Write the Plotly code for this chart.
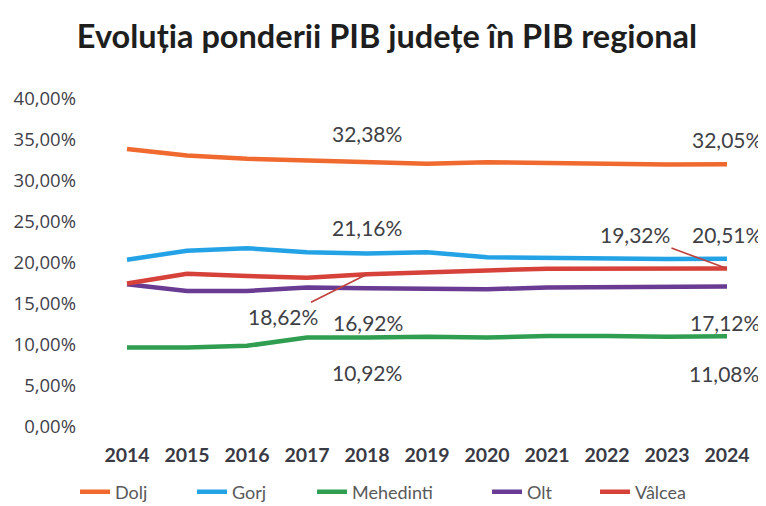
import plotly.graph_objects as go

years = [2014, 2015, 2016, 2017, 2018, 2019, 2020, 2021, 2022, 2023, 2024]
dolj = [33.9, 33.1, 32.7, 32.5, 32.38, 32.1, 32.3, 32.2, 32.1, 32.0, 32.05]
gorj = [20.4, 21.5, 21.8, 21.3, 21.16, 21.3, 20.7, 20.6, 20.5, 20.5, 20.51]
mehedinti = [9.7, 9.7, 9.9, 10.9, 10.92, 11.0, 10.9, 11.1, 11.1, 11.0, 11.08]
olt = [17.4, 16.6, 16.6, 17.0, 16.92, 16.8, 16.8, 17.0, 17.0, 17.0, 17.12]
valcea = [17.5, 18.7, 18.4, 18.2, 18.62, 18.8, 19.1, 19.3, 19.3, 19.3, 19.32]

series_names = ["Dolj", "Gorj", "Mehedinti", "Olt", "Vâlcea"]
series_values = [dolj, gorj, mehedinti, olt, valcea]
colors = ["#F0692F", "#23A2E6", "#2F9E50", "#6A3B92", "#D6413A"]
legend_widths = [72, 75, 130, 63, 60]

y_tickvals = [0, 5, 10, 15, 20, 25, 30, 35, 40]
y_ticktext = ["0,00%", "5,00%", "10,00%", "15,00%", "20,00%", "25,00%", "30,00%", "35,00%", "40,00%"]
x_ticktext = [str(y) for y in years]

label_years = [2018, 2024]

title_text = "Evoluția ponderii PIB județe în PIB regional"

FONT = "Lato"
TEXT_COLOR = "#3F3F46"

# the page body adds an 8px margin, so the figure is drawn 8px smaller
W, H = 758, 498

fig = go.Figure()
for name, vals, col, lw in zip(series_names, series_values, colors, legend_widths):
    fig.add_trace(go.Scatter(x=years, y=vals, mode="lines", name=name,
                             legendwidth=lw,
                             line=dict(color=col, width=4.5)))

def fmt(v):
    return f"{v:.2f}%".replace(".", ",")

placement = {
    "Dolj": {2018: (0, 28), 2024: (0, 25)},
    "Gorj": {2018: (0, 26), 2024: (0, 24)},
    "Mehedinti": {2018: (0, -35), 2024: (-3, -37)},
    "Olt": {2018: (1, -34), 2024: (-2, -36)},
}
leader = {"Vâlcea": {2018: (-84, 42), 2024: (-92, -34)}}

for name, vals in zip(series_names, series_values):
    for yr in label_years:
        v = vals[years.index(yr)]
        if name in placement:
            dx, dy = placement[name][yr]
            fig.add_annotation(x=yr, y=v, text=fmt(v), showarrow=False,
                               xshift=dx, yshift=dy,
                               font=dict(family=FONT, size=21, color=TEXT_COLOR))
        else:
            ax, ay = leader[name][yr]
            fig.add_annotation(x=yr, y=v, text=fmt(v), showarrow=True,
                               ax=ax, ay=ay, arrowhead=0, arrowwidth=1.6,
                               arrowcolor="#C0403A", standoff=0,
                               font=dict(family=FONT, size=21, color=TEXT_COLOR))

fig.update_layout(
    width=W, height=H,
    margin=dict(l=89, r=9, t=91, b=79, autoexpand=False),
    paper_bgcolor="white", plot_bgcolor="white",
    title=dict(text="<b>" + title_text + "</b>", x=0.5, xanchor="center",
               y=1 - 29 / H, yanchor="middle", yref="container",
               font=dict(family=FONT, size=32.5, color="#1E1E1E")),
    showlegend=True,
    legend=dict(orientation="h", x=-0.0333, xanchor="left", y=-0.198, yanchor="middle",
                font=dict(family=FONT, size=18, color="#595959"),
                tracegroupgap=0),
    xaxis=dict(range=[2013.5, 2024.5], tickvals=years, ticktext=x_ticktext,
               showgrid=False, zeroline=False, showline=False, ticks="",
               automargin=False, ticklabelstandoff=14,
               tickfont=dict(family=FONT, size=19.5, color="#3A3A44", weight="bold")),
    yaxis=dict(range=[0, 40], tickvals=y_tickvals, ticktext=y_ticktext,
               showgrid=False, zeroline=False, showline=False, ticks="",
               automargin=False, ticklabelstandoff=20,
               tickfont=dict(family="Open Sans", size=18.5, color="#3F3F4A")),
)

fig.write_html("out.html")
